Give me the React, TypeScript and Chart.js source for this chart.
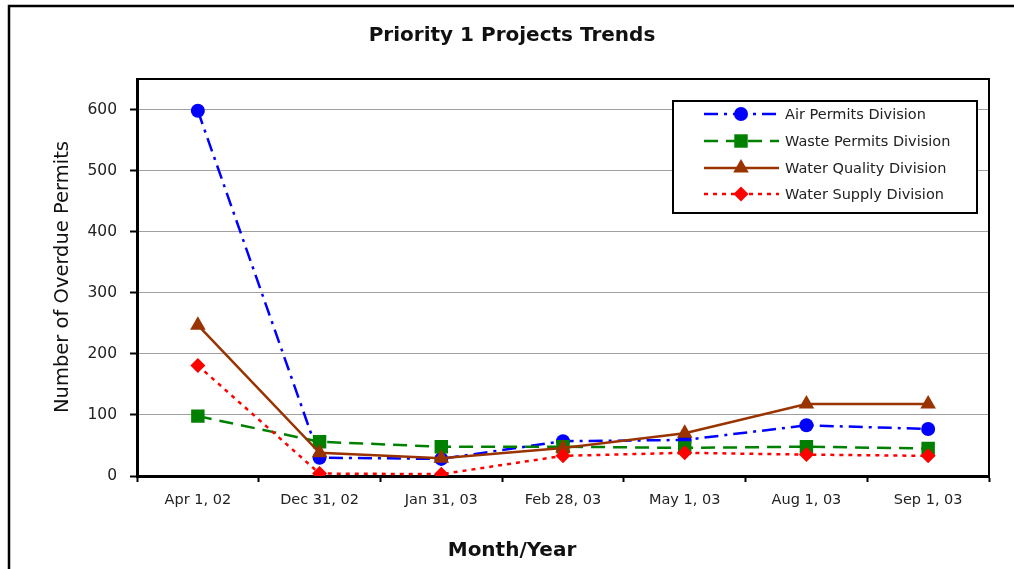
import React, { useEffect, useRef } from "react";
import { Chart, registerables } from "chart.js";

Chart.register(...registerables);

const categories = ["Apr 1, 02", "Dec 31, 02", "Jan 31, 03", "Feb 28, 03", "May 1, 03", "Aug 1, 03", "Sep 1, 03"];
const airPermits = [598, 30, 28, 57, 59, 83, 77];
const wastePermits = [98, 56, 48, 48, 46, 48, 45];
const waterQuality = [247, 38, 29, 46, 70, 118, 118];
const waterSupply = [181, 4, 3, 33, 38, 35, 33];
const yTicks = [0, 100, 200, 300, 400, 500, 600];

const chartTitle = "Priority 1 Projects Trends";
const yTitle = "Number of Overdue Permits";
const xTitle = "Month/Year";

const FONT = "'DejaVu Sans', sans-serif";

function drawMarker(ctx: CanvasRenderingContext2D, style: string, x: number, y: number, r: number, color: string) {
  ctx.save();
  ctx.fillStyle = color;
  ctx.setLineDash([]);
  ctx.beginPath();
  if (style === "circle") {
    ctx.arc(x, y, r, 0, Math.PI * 2);
  } else if (style === "rect") {
    const s = Math.SQRT1_2 * r;
    ctx.rect(x - s, y - s, 2 * s, 2 * s);
  } else if (style === "triangle") {
    for (let i = 0; i < 3; i++) {
      const a = -Math.PI / 2 + (i * 2 * Math.PI) / 3;
      const px = x + Math.cos(a) * r;
      const py = y + Math.sin(a) * r;
      if (i === 0) ctx.moveTo(px, py);
      else ctx.lineTo(px, py);
    }
    ctx.closePath();
  } else if (style === "rectRot") {
    ctx.moveTo(x, y - r);
    ctx.lineTo(x + r, y);
    ctx.lineTo(x, y + r);
    ctx.lineTo(x - r, y);
    ctx.closePath();
  }
  ctx.fill();
  ctx.restore();
}

const decorPlugin = {
  id: "decor",
  afterDraw(chart: any) {
    const ctx: CanvasRenderingContext2D = chart.ctx;
    const a = chart.chartArea;
    ctx.save();
    // outer border
    ctx.strokeStyle = "#000";
    ctx.lineWidth = 2.5;
    ctx.strokeRect(9, 6, 1200, 800);
    // plot area border top/right
    ctx.lineWidth = 2;
    ctx.beginPath();
    ctx.moveTo(a.left, a.top);
    ctx.lineTo(a.right, a.top);
    ctx.lineTo(a.right, a.bottom);
    ctx.stroke();
    // title
    ctx.fillStyle = "#111";
    ctx.textAlign = "center";
    ctx.textBaseline = "middle";
    ctx.font = `bold 20px ${FONT}`;
    ctx.fillText(chartTitle, 512, 36);
    // x title
    ctx.font = `bold 20px ${FONT}`;
    ctx.fillText(xTitle, 512, 551);
    // y title
    ctx.save();
    ctx.translate(63, 277);
    ctx.rotate(-Math.PI / 2);
    ctx.font = `19.5px ${FONT}`;
    ctx.fillText(yTitle, 0, 0);
    ctx.restore();
    // legend
    const lx = 673, ly = 101, lw = 304, lh = 112;
    ctx.fillStyle = "#fff";
    ctx.fillRect(lx, ly, lw, lh);
    ctx.strokeStyle = "#000";
    ctx.lineWidth = 2;
    ctx.strokeRect(lx, ly, lw, lh);
    const rows = [114, 141, 168, 194];
    chart.data.datasets.forEach((ds: any, i: number) => {
      const y = rows[i];
      ctx.save();
      ctx.strokeStyle = ds.borderColor;
      ctx.lineWidth = ds.borderWidth;
      ctx.setLineDash(ds.borderDash || []);
      ctx.beginPath();
      ctx.moveTo(704, y);
      ctx.lineTo(779, y);
      ctx.stroke();
      ctx.restore();
      drawMarker(ctx, ds.pointStyle, 741, y, ds.pointRadius, ds.pointBackgroundColor);
      ctx.fillStyle = "#222";
      ctx.textAlign = "left";
      ctx.textBaseline = "middle";
      ctx.font = `14.5px ${FONT}`;
      ctx.fillText(ds.label, 785, y + 1);
    });
    ctx.restore();
  },
};

export default function App() {
  const ref = useRef<HTMLCanvasElement>(null);
  useEffect(() => {
    if (!ref.current) return;
    const mk = (label: string, data: number[], color: string, style: string, r: number, dash: number[], order: number) => ({
      label,
      data,
      borderColor: color,
      backgroundColor: color,
      pointBackgroundColor: color,
      pointBorderColor: color,
      pointBorderWidth: 0,
      pointStyle: style,
      pointRadius: r,
      borderWidth: 2.5,
      borderDash: dash,
      tension: 0,
      order,
    });
    const chart = new Chart(ref.current, {
      type: "line",
      data: {
        labels: categories,
        datasets: [
          mk("Air Permits Division", airPermits, "#0000FF", "circle", 7, [14, 6, 3, 6], 4),
          mk("Waste Permits Division", wastePermits, "#008000", "rect", 9.5, [14, 8], 3),
          mk("Water Quality Division", waterQuality, "#993300", "triangle", 9, [], 2),
          mk("Water Supply Division", waterSupply, "#FF0000", "rectRot", 7.5, [4, 5], 1),
        ],
      },
      options: {
        responsive: false,
        animation: false,
        layout: { padding: { top: 79, left: 0, right: 25, bottom: 0 } },
        plugins: {
          legend: { display: false },
          title: { display: false },
          tooltip: { enabled: false },
        },
        scales: {
          x: {
            offset: true,
            afterFit: (s: any) => {
              s.height = 93;
            },
            grid: {
              offset: true,
              drawOnChartArea: false,
              drawTicks: true,
              tickLength: 6,
              tickWidth: 2,
              tickColor: "#000",
            },
            border: { display: true, color: "#000", width: 3 },
            ticks: {
              color: "#222",
              font: { family: FONT, size: 14.5 },
              padding: 10,
              maxRotation: 0,
              autoSkip: false,
            },
          },
          y: {
            min: 0,
            max: 650,
            afterFit: (s: any) => {
              s.width = 137;
            },
            afterBuildTicks: (s: any) => {
              s.ticks = yTicks.map((v) => ({ value: v }));
            },
            grid: {
              color: "#a0a0a0",
              lineWidth: 1,
              drawTicks: true,
              tickLength: 7,
              tickColor: "#000",
              tickWidth: 2,
            },
            border: { display: true, color: "#000", width: 3 },
            ticks: {
              color: "#222",
              font: { family: FONT, size: 15.5 },
              padding: 13,
            },
          },
        },
      },
      plugins: [decorPlugin],
    } as any);
    return () => chart.destroy();
  }, []);
  return (
    <div style={{ position: "absolute", left: 0, top: 0, width: 1014, height: 569, background: "#fff" }}>
      <canvas ref={ref} width={1014} height={569} style={{ display: "block" }} />
    </div>
  );
}
